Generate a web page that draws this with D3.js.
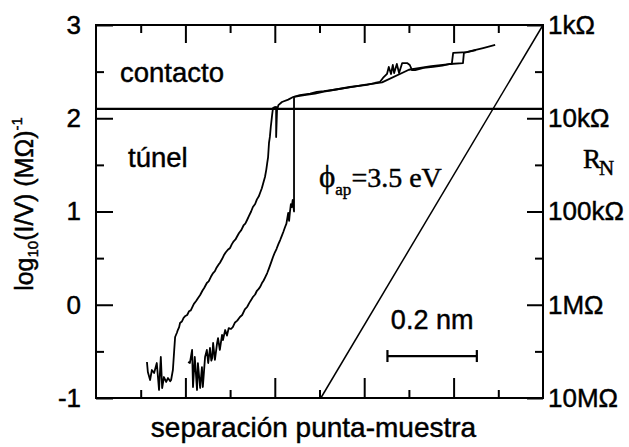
<!DOCTYPE html>
<html>
<head>
<meta charset="utf-8">
<script src="https://cdn.jsdelivr.net/npm/d3@7"></script>
<style>
  body { margin: 0; background: #fff; }
  text { fill: #000; stroke: #000; stroke-width: 0.45px; }
</style>
</head>
<body>
<svg id="chart" width="629" height="447"></svg>
<script>
// Tip–sample separation (nm) against log10 of the conductance I/V in (MΩ)^-1.

// First approach trace
const traceAx = [0.114,0.116,0.121,0.125,0.130,0.136,0.141,0.145,0.148,0.152,0.157,0.161,0.166,0.168,0.172,0.175,0.177,0.181,0.183,0.186,0.188,0.192,0.196,0.200,0.204,0.208,0.212,0.215,0.219,0.224,0.228,0.233,0.238,0.242,0.248,0.252,0.257,0.262,0.266,0.270,0.274,0.277,0.282,0.286,0.290,0.295,0.300,0.304,0.308,0.312,0.315,0.320,0.325,0.330,0.334,0.338,0.342,0.347,0.351,0.356,0.360,0.364,0.367,0.371,0.375,0.378,0.381,0.383,0.385,0.387,0.389,0.391,0.393,0.394,0.396,0.400,0.403,0.403,0.405,0.408,0.416,0.430,0.441,0.456,0.479,0.494,0.510,0.530,0.568,0.606,0.624,0.635,0.642,0.651,0.655,0.660,0.664,0.667,0.673,0.678,0.685,0.696,0.702,0.707,0.714,0.733,0.754,0.775,0.792,0.821,0.823,0.840,0.866,0.893];
const traceAy = [-0.614,-0.721,-0.807,-0.700,-0.732,-0.625,-0.914,-0.560,-0.893,-0.775,-0.828,-0.786,-0.820,-0.807,-0.700,-0.485,-0.346,-0.300,-0.271,-0.240,-0.196,-0.180,-0.140,-0.120,-0.110,-0.070,-0.060,-0.030,0.010,0.040,0.070,0.105,0.150,0.180,0.233,0.250,0.300,0.340,0.360,0.400,0.430,0.448,0.490,0.530,0.560,0.590,0.609,0.650,0.680,0.700,0.727,0.770,0.800,0.850,0.870,0.909,0.950,1.000,1.048,1.080,1.130,1.160,1.198,1.250,1.320,1.370,1.450,1.520,1.584,1.735,1.800,1.906,1.990,2.035,2.110,2.120,2.121,1.799,2.088,2.140,2.174,2.200,2.228,2.249,2.265,2.282,2.290,2.303,2.335,2.357,2.378,2.389,2.432,2.475,2.550,2.475,2.571,2.485,2.582,2.485,2.592,2.592,2.571,2.517,2.517,2.540,2.550,2.565,2.582,2.592,2.700,2.722,2.753,2.786];

// Second approach trace
const traceBx = [0.206,0.210,0.215,0.217,0.221,0.226,0.228,0.233,0.237,0.239,0.244,0.248,0.251,0.255,0.258,0.260,0.262,0.266,0.271,0.273,0.277,0.282,0.284,0.289,0.293,0.297,0.302,0.306,0.311,0.316,0.322,0.327,0.333,0.338,0.343,0.347,0.351,0.356,0.360,0.364,0.367,0.371,0.375,0.379,0.383,0.387,0.390,0.393,0.396,0.400,0.404,0.408,0.412,0.415,0.419,0.423,0.426,0.430,0.432,0.434,0.436,0.438,0.440,0.443,0.443,0.456,0.470,0.490,0.510,0.530,0.560,0.600,0.640,0.700,0.750,0.796,0.799,0.830,0.850];
const traceBy = [-0.614,-0.625,-0.485,-0.882,-0.560,-0.914,-0.625,-0.893,-0.668,-0.882,-0.560,-0.485,-0.625,-0.464,-0.600,-0.571,-0.410,-0.592,-0.410,-0.357,-0.485,-0.324,-0.378,-0.271,-0.330,-0.250,-0.260,-0.239,-0.190,-0.170,-0.131,-0.110,-0.050,-0.024,0.020,0.050,0.083,0.110,0.150,0.170,0.190,0.230,0.260,0.300,0.340,0.390,0.430,0.470,0.512,0.560,0.600,0.650,0.694,0.730,0.780,0.834,0.870,0.984,0.900,1.000,1.080,1.048,1.123,1.000,2.228,2.240,2.250,2.265,2.285,2.303,2.325,2.357,2.385,2.520,2.560,2.582,2.700,2.710,2.730];

// Ideal tunnelling line for an apparent barrier of 3.5 eV
const barrierX = [0.503, 1.0];
const barrierY = [-1, 3];

// Boundary between tunnelling and contact regimes
const contactLevel = 2.1;

// Scale bar (0.2 nm)
const scaleBarX = [0.652, 0.852];
const scaleBarY = -0.55;

// Axis ticks and labels
const yMajor = [-1, 0, 1, 2, 3];
const yMinor = [-0.5, 0.5, 1.5, 2.5];
const leftLabels = ["-1", "0", "1", "2", "3"];
const rightLabels = ["10MΩ", "1MΩ", "100kΩ", "10kΩ", "1kΩ"];
const xMajor = [0.2, 0.4, 0.6, 0.8];
const xMinor = [0.1, 0.3, 0.5, 0.7, 0.9];

const svg = d3.select("#chart");
const plotL = 96, plotR = 543, plotT = 25, plotB = 398;
const x = d3.scaleLinear().domain([0, 1]).range([plotL, plotR]);
const y = d3.scaleLinear().domain([-1, 3]).range([plotB, plotT]);

const sans = "'Liberation Sans', Arial, Helvetica, sans-serif";
const serif = "'Liberation Serif', 'Times New Roman', serif";

function styleAxis(g) {
  g.select(".domain").remove();
  g.selectAll(".tick line").attr("stroke", "#000").attr("stroke-width", 2);
  g.selectAll(".tick text").attr("font-family", sans).attr("font-size", 26).attr("fill", "#000");
}

// Left axis
svg.append("g").attr("transform", `translate(${plotL},0)`)
  .call(d3.axisLeft(y).tickValues(yMajor).tickSize(-17).tickPadding(15)
    .tickFormat((d, i) => leftLabels[i]))
  .call(styleAxis);
svg.append("g").attr("transform", `translate(${plotL},0)`)
  .call(d3.axisLeft(y).tickValues(yMinor).tickSize(-8).tickFormat(""))
  .call(styleAxis);

// Right axis (resistance)
svg.append("g").attr("transform", `translate(${plotR},0)`)
  .call(d3.axisRight(y).tickValues(yMajor).tickSize(-16).tickPadding(5)
    .tickFormat((d, i) => rightLabels[i]))
  .call(styleAxis);
svg.append("g").attr("transform", `translate(${plotR},0)`)
  .call(d3.axisRight(y).tickValues(yMinor).tickSize(-8).tickFormat(""))
  .call(styleAxis);

// Top and bottom axes
svg.append("g").attr("transform", `translate(0,${plotT})`)
  .call(d3.axisTop(x).tickValues(xMajor).tickSize(-18).tickFormat("")).call(styleAxis);
svg.append("g").attr("transform", `translate(0,${plotT})`)
  .call(d3.axisTop(x).tickValues(xMinor).tickSize(-8).tickFormat("")).call(styleAxis);
svg.append("g").attr("transform", `translate(0,${plotB})`)
  .call(d3.axisBottom(x).tickValues(xMajor).tickSize(-20).tickFormat("")).call(styleAxis);
svg.append("g").attr("transform", `translate(0,${plotB})`)
  .call(d3.axisBottom(x).tickValues(xMinor).tickSize(-8).tickFormat("")).call(styleAxis);

// Frame
svg.append("rect")
  .attr("x", plotL).attr("y", plotT)
  .attr("width", plotR - plotL).attr("height", plotB - plotT)
  .attr("fill", "none").attr("stroke", "#000").attr("stroke-width", 2);

// Contact threshold
svg.append("line")
  .attr("x1", x(0)).attr("x2", x(1))
  .attr("y1", y(contactLevel)).attr("y2", y(contactLevel))
  .attr("stroke", "#000").attr("stroke-width", 2.2);

const line = d3.line().x(d => x(d[0])).y(d => y(d[1]));

// Barrier line
svg.append("path")
  .datum(d3.zip(barrierX, barrierY))
  .attr("d", line).attr("fill", "none").attr("stroke", "#000").attr("stroke-width", 1.5);

// Traces
[[traceAx, traceAy], [traceBx, traceBy]].forEach(([xs, ys]) => {
  svg.append("path")
    .datum(d3.zip(xs, ys))
    .attr("d", line).attr("fill", "none").attr("stroke", "#000")
    .attr("stroke-width", 1.8).attr("stroke-linejoin", "round");
});

// Scale bar
const sb = svg.append("g").attr("stroke", "#000").attr("stroke-width", 2.2);
sb.append("line").attr("x1", x(scaleBarX[0])).attr("x2", x(scaleBarX[1]))
  .attr("y1", y(scaleBarY)).attr("y2", y(scaleBarY));
scaleBarX.forEach(v => sb.append("line").attr("x1", x(v)).attr("x2", x(v))
  .attr("y1", y(scaleBarY) - 6).attr("y2", y(scaleBarY) + 6));
svg.append("text")
  .attr("x", x((scaleBarX[0] + scaleBarX[1]) / 2)).attr("y", 329)
  .attr("text-anchor", "middle").attr("font-family", sans).attr("font-size", 27)
  .text("0.2 nm");

// Region labels
svg.append("text").attr("x", 120).attr("y", 82)
  .attr("font-family", sans).attr("font-size", 27.5).text("contacto");
svg.append("text").attr("x", 128).attr("y", 167)
  .attr("font-family", sans).attr("font-size", 27.5).text("túnel");

// Barrier label
const phi = svg.append("text").attr("x", 319).attr("y", 187)
  .attr("font-family", serif).attr("font-size", 28);
phi.append("tspan").attr("font-size", 31).text("ϕ");
phi.append("tspan").attr("font-size", 17).attr("dy", 8).text("ap");
phi.append("tspan").attr("dy", -8).text("=3.5 eV");

// Right axis title
const rn = svg.append("text").attr("x", 583).attr("y", 168)
  .attr("font-family", serif).attr("font-size", 27);
rn.append("tspan").text("R");
rn.append("tspan").attr("font-size", 21).attr("dy", 7).attr("dx", -2).text("N");

// X axis title
svg.append("text").attr("x", x(0.5) - 6).attr("y", 437)
  .attr("text-anchor", "middle").attr("font-family", sans).attr("font-size", 28)
  .text("separación punta-muestra");

// Y axis title
const yt = svg.append("text")
  .attr("transform", `translate(33,204) rotate(-90)`)
  .attr("text-anchor", "middle").attr("font-family", sans).attr("font-size", 25);
yt.append("tspan").text("log");
yt.append("tspan").attr("font-size", 15).attr("dy", 5).text("10");
yt.append("tspan").attr("dy", -5).text("(I/V) (MΩ)");
yt.append("tspan").attr("font-size", 15).attr("dy", -11).text("-1");
</script>
</body>
</html>
